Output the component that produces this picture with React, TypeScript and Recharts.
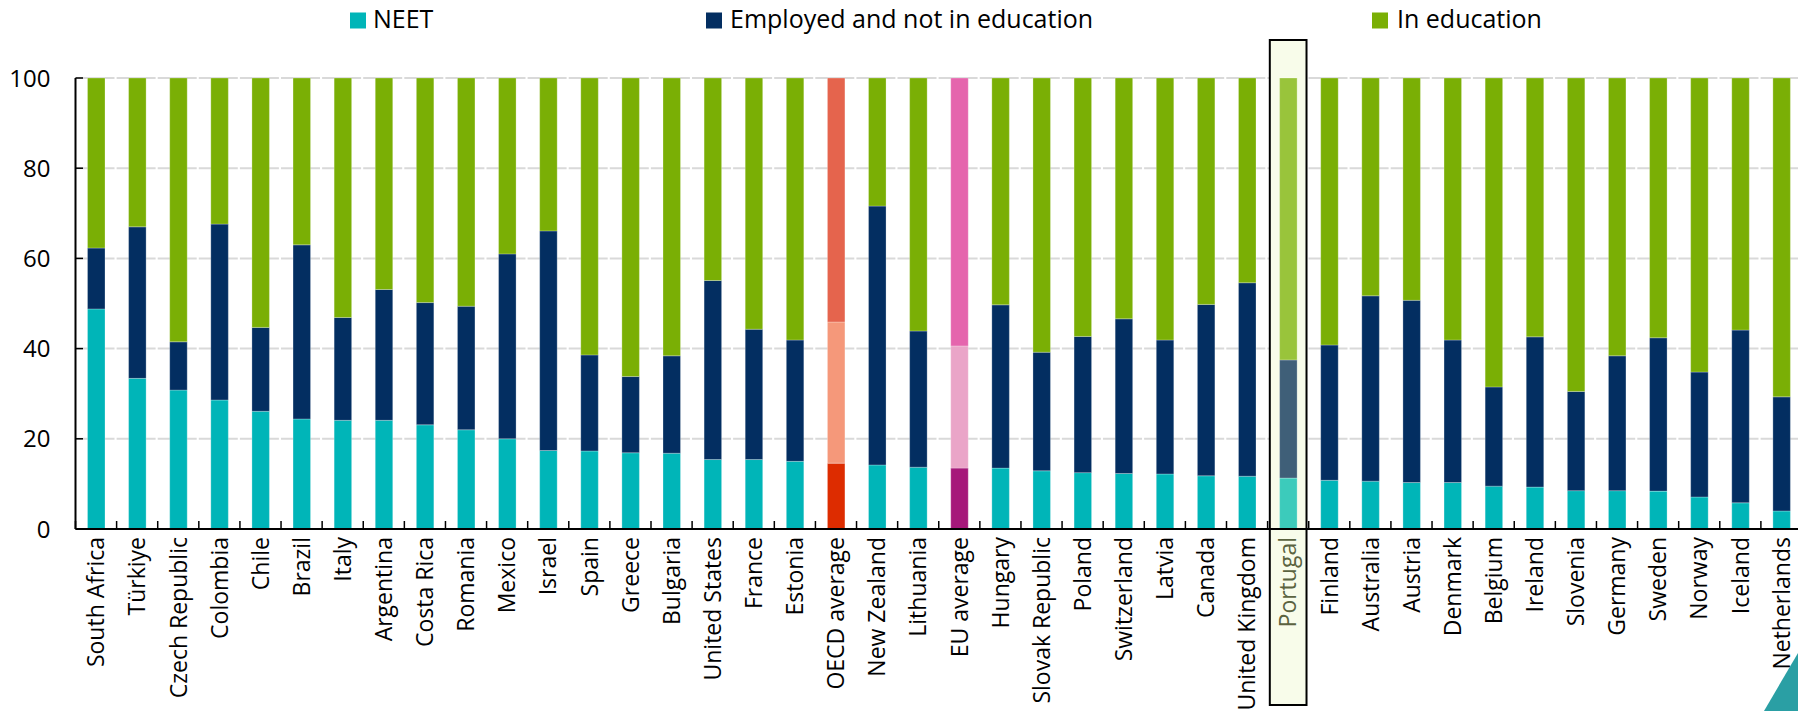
import React from 'react';
import { BarChart, Bar, XAxis, YAxis, CartesianGrid, Cell, ReferenceArea } from 'recharts';

// ---------- data ----------
const countries = [
  'South Africa', 'Türkiye', 'Czech Republic', 'Colombia', 'Chile', 'Brazil', 'Italy', 'Argentina',
  'Costa Rica', 'Romania', 'Mexico', 'Israel', 'Spain', 'Greece', 'Bulgaria', 'United States',
  'France', 'Estonia', 'OECD average', 'New Zealand', 'Lithuania', 'EU average', 'Hungary',
  'Slovak Republic', 'Poland', 'Switzerland', 'Latvia', 'Canada', 'United Kingdom', 'Portugal',
  'Finland', 'Australia', 'Austria', 'Denmark', 'Belgium', 'Ireland', 'Slovenia', 'Germany',
  'Sweden', 'Norway', 'Iceland', 'Netherlands',
];
const neet = [
  48.8, 33.4, 30.8, 28.6, 26.1, 24.4, 24.1, 24.1, 23.1, 22.0, 20.0, 17.4, 17.3, 16.9, 16.8, 15.4,
  15.4, 15.0, 14.6, 14.2, 13.7, 13.5, 13.5, 12.9, 12.5, 12.3, 12.2, 11.8, 11.7, 11.3, 10.8, 10.6,
  10.3, 10.3, 9.5, 9.3, 8.5, 8.5, 8.4, 7.1, 5.8, 4.0,
];
const employedNotInEducation = [
  13.5, 33.6, 10.7, 39.0, 18.6, 38.6, 22.8, 29.0, 27.1, 27.4, 41.0, 48.7, 21.3, 16.9, 21.6, 39.7,
  28.9, 26.9, 31.3, 57.4, 30.2, 27.1, 36.2, 26.3, 30.2, 34.3, 29.7, 38.0, 42.9, 26.2, 30.0, 41.1,
  40.4, 31.6, 22.0, 33.3, 22.0, 29.9, 34.0, 27.7, 38.3, 25.3,
];
const inEducation = [
  37.7, 33.0, 58.5, 32.4, 55.3, 37.0, 53.1, 46.9, 49.8, 50.6, 39.0, 33.9, 61.4, 66.2, 61.6, 44.9,
  55.7, 58.1, 54.1, 28.4, 56.1, 59.4, 50.3, 60.8, 57.3, 53.4, 58.1, 50.2, 45.4, 62.5, 59.2, 48.3,
  49.3, 58.1, 68.5, 57.4, 69.5, 61.6, 57.6, 65.2, 55.9, 70.7,
];
const yTicks = [0, 20, 40, 60, 80, 100];
const seriesNames = ['NEET', 'Employed and not in education', 'In education'];
const seriesKeys = ['neet', 'employed', 'education'];
const highlightCountry = 'Portugal';
const oecdLabel = 'OECD average';
const euLabel = 'EU average';

const data = countries.map((c, i) => ({
  country: c,
  neet: neet[i],
  employed: employedNotInEducation[i],
  education: inEducation[i],
}));

// ---------- styles ----------
const FONT = '"Open Sans", "Noto Sans", sans-serif';
const baseColors: Record<string, string> = { neet: '#00b5b8', employed: '#032e61', education: '#7aaf05' };
const oecdColors: Record<string, string> = { neet: '#dd2c00', employed: '#f5987a', education: '#e5644d' };
const euColors: Record<string, string> = { neet: '#a6187a', employed: '#eaa5c8', education: '#e565ad' };
const ptColors: Record<string, string> = { neet: '#3ccbbb', employed: '#3f5f78', education: '#99c43b' };

const colorFor = (key: string, country: string) => {
  if (country === oecdLabel) return oecdColors[key];
  if (country === euLabel) return euColors[key];
  if (country === highlightCountry) return ptColors[key];
  return baseColors[key];
};

const W = 1798;
const H = 711;
const CHART_W = 1802;
const Y_AXIS_W = 75.5;
const TOP = 78;
const X_AXIS_H = 182;
const CAT_W = (CHART_W - Y_AXIS_W) / countries.length;
const BOX_TOP = 40;
const BOX_BOTTOM = 705;

const legendPos = [
  { sq: 350, tx: 373 },
  { sq: 706, tx: 730 },
  { sq: 1372, tx: 1397 },
];

const XTick = (props: any) => {
  const { x, y, payload } = props;
  const isPt = payload.value === highlightCountry;
  const bx = x - CAT_W / 2;
  const ty = y + 8;
  return (
    <g>
      <line x1={bx} x2={bx} y1={y} y2={y - 8} stroke="#000" strokeWidth={1.5} />
      <text
        x={x}
        y={ty}
        transform={`rotate(-90, ${x}, ${ty})`}
        textAnchor="end"
        dy="0.36em"
        fontFamily={FONT}
        fontSize={23}
        fill={isPt ? '#5b6340' : '#000'}
      >
        {payload.value}
      </text>
    </g>
  );
};

const YTick = (props: any) => {
  const { x, y, payload } = props;
  return (
    <g>
      <line x1={x} x2={x + 7.5} y1={y} y2={y} stroke="#000" strokeWidth={1.5} />
      <text x={x - 25} y={y} dy="0.36em" textAnchor="end" fontFamily={FONT} fontSize={24} fill="#000">
        {payload.value}
      </text>
    </g>
  );
};

const HighlightBox = (p: any) => {
  const inset = 2.2;
  return (
    <rect
      x={p.x + inset}
      y={BOX_TOP}
      width={p.width - inset * 2}
      height={BOX_BOTTOM - BOX_TOP}
      fill="#f8fcea"
      stroke="#000"
      strokeWidth={2}
    />
  );
};

export default function App() {
  return (
    <div style={{ position: 'absolute', left: 0, top: 0, width: W, height: H, overflow: 'hidden', background: '#fff' }}>
      <BarChart
        width={CHART_W}
        height={H}
        data={data}
        margin={{ top: TOP, right: 0, bottom: 0, left: 0 }}
        barCategoryGap={0}
      >
        <CartesianGrid
          vertical={false}
          stroke="#d9d9d9"
          strokeWidth={2}
          strokeDasharray="39 2.1"
        />
        <ReferenceArea
          x1={highlightCountry}
          x2={highlightCountry}
          y1={0}
          y2={100}
          ifOverflow="visible"
          shape={HighlightBox}
        />
        <XAxis
          dataKey="country"
          interval={0}
          height={X_AXIS_H}
          tickLine={false}
          tickSize={0}
          tickMargin={0}
          axisLine={{ stroke: '#000', strokeWidth: 2 }}
          tick={<XTick />}
        />
        <YAxis
          width={Y_AXIS_W}
          domain={[0, 100]}
          ticks={yTicks}
          tickLine={false}
          tickSize={0}
          tickMargin={0}
          axisLine={{ stroke: '#000', strokeWidth: 2 }}
          tick={<YTick />}
        />
        {seriesKeys.map((k, si) => (
          <Bar
            key={k}
            dataKey={k}
            name={seriesNames[si]}
            stackId="a"
            barSize={17.5}
            stroke="#ffffff"
            strokeOpacity={0.35}
            strokeWidth={0.75}
            isAnimationActive={false}
          >
            {data.map((d) => (
              <Cell key={d.country} fill={colorFor(k, d.country)} />
            ))}
          </Bar>
        ))}
      </BarChart>
      <svg width={W} height={H} style={{ position: 'absolute', left: 0, top: 0, pointerEvents: 'none' }}>
        {seriesKeys.map((k, i) => (
          <g key={k}>
            <rect x={legendPos[i].sq} y={12.5} width={16} height={16} fill={baseColors[k]} />
            <text x={legendPos[i].tx} y={28.3} fontFamily={FONT} fontSize={25} fill="#000">
              {seriesNames[i]}
            </text>
          </g>
        ))}
        <polygon points={`1764,${H} ${W},653 ${W},${H}`} fill="#2a9fa4" />
      </svg>
    </div>
  );
}
